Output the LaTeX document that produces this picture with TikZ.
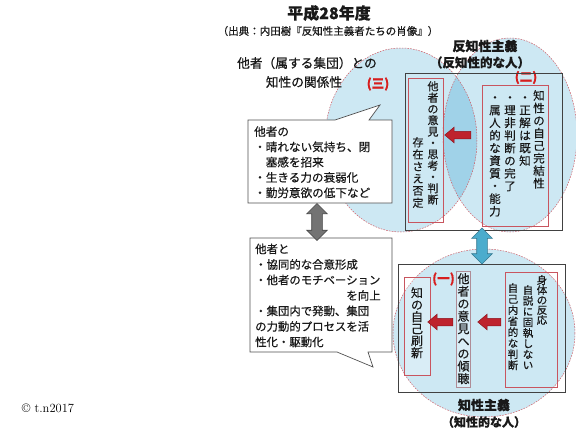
\documentclass[tikz,border=0pt]{standalone}
\usepackage{fontspec}
\newfontfamily\jpfont[FakeBold=0.5]{Noto Sans CJK JP}
\usetikzlibrary{shapes,arrows,positioning,calc}

% one character per line, for the vertical columns
\newcommand\tatetext[2][1.08em]{\vtop{\baselineskip=#1\lineskiplimit=-20pt\lineskip=0pt\tatechar#2\relax}}
\def\tatechar#1{\ifx\relax#1\else\hbox to 1em{\hss#1\hss}\expandafter\tatechar\fi}

\begin{document}
\begin{tikzpicture}[x=1pt,y=-1pt,
    tate/.style={inner sep=0pt, anchor=north, text=txtdark, font=\jpfont\fontsize{#1}{#1}\selectfont},
    tate/.default=11.5,
    lbl/.style={inner sep=0pt, text=txtdark, font=\jpfont\fontsize{#1}{#1}\selectfont},
    lbl/.default=12,
    numlbl/.style={inner sep=0pt, text=labelred, font=\jpfont\bfseries\fontsize{12.5}{12.5}\selectfont},
    ring/.style={draw=ringred, line width=0.5pt, dash pattern=on 1.6pt off 1.2pt},
    redbox/.style={draw=boxred, line width=0.7pt, inner sep=0pt},
    frame/.style={draw=rectgray, line width=0.9pt, inner sep=0pt},
    callout/.style={draw=calloutline, fill=white, line width=0.7pt},
    notetext/.style={inner sep=0pt, anchor=north west, align=left, text=txtdark, font=\jpfont\fontsize{11.6}{15.3}\selectfont},
    redarrow/.style={single arrow, shape border rotate=180, fill=arrowred, draw=arrowredline, line width=0.5pt,
        inner xsep=0pt, inner ysep=3.5pt, single arrow head extend=4pt, single arrow tip angle=80},
    bigarrow/.style={double arrow, rotate=90, line width=0.6pt,
        inner xsep=0pt, inner ysep=5pt, double arrow head extend=5pt, double arrow tip angle=90}
]
        \definecolor{circblue}{RGB}{205,232,243}
        \definecolor{lensblue}{RGB}{160,210,232}
        \definecolor{ringred}{RGB}{205,95,105}
        \definecolor{boxred}{RGB}{200,85,95}
        \definecolor{boxgray}{RGB}{175,140,150}
        \definecolor{rectgray}{RGB}{65,65,65}
        \definecolor{calloutline}{RGB}{80,80,80}
        \definecolor{arrowred}{RGB}{190,35,45}
        \definecolor{arrowredline}{RGB}{140,20,30}
        \definecolor{arrowgray}{RGB}{115,115,115}
        \definecolor{arrowblue}{RGB}{75,172,205}
        \definecolor{labelred}{RGB}{215,30,30}
        \definecolor{txtdark}{RGB}{25,25,25}

        \fill[white] (0,0) rectangle (576,432);
        \useasboundingbox (0,0) rectangle (576,432);

        % Circles - left (three), right (two), bottom (one)
        \fill[circblue] (401,140) ellipse [x radius=76, y radius=92];
        \fill[circblue] (510,135) ellipse [x radius=67, y radius=97];
        \fill[circblue] (484,333) ellipse [x radius=91, y radius=84];
        \begin{scope}
            \clip (401,140) ellipse [x radius=76, y radius=92];
            \fill[lensblue] (510,135) ellipse [x radius=67, y radius=97];
        \end{scope}
        \draw[ring] (401,140) ellipse [x radius=76, y radius=92];
        \draw[ring] (510,135) ellipse [x radius=67, y radius=97];
        \draw[ring] (484,333) ellipse [x radius=91, y radius=84];

        % Title
        \node[lbl=16, font=\jpfont\bfseries\fontsize{16}{16}\selectfont] (title) at (329,13) {平成28年度};
        \node[lbl=10.5] (source) at (328,31) {（出典：内田樹『反知性主義者たちの肖像』）};

        % Heading of the left circle
        \node[lbl=12.7] (relA) at (307,63) {他者（属する集団）との};
        \node[lbl=12.7] (relB) at (304,82) {知性の関係性};
        \node[numlbl] (three) at (378,84) {(三)};

        % Heading of the right circle
        \node[lbl=13, font=\jpfont\bfseries\fontsize{13}{13}\selectfont] (antiA) at (485,46) {反知性主義};
        \node[lbl=12.5, font=\jpfont\bfseries\fontsize{12.5}{12.5}\selectfont] (antiB) at (480,62.5) {（反知性的な人）};
        \node[numlbl] (two) at (526,77.5) {(二)};

        % Upper frame - anti-intellectualism
        \node[frame, minimum width=157, minimum height=157] (antiframe) at (483.5,151.5) {};
        \node[redbox, minimum width=35, minimum height=144] (denybox) at (425.5,150) {};
        \node[redbox, minimum width=66, minimum height=141] (closedbox) at (515,155.5) {};

        \node[tate=11] (denyA) at (433,81) {\tatetext[1.03em]{他者の意見・思考・判断}};
        \node[tate=11] (denyB) at (418,137) {\tatetext[1.1em]{存在さえ否定}};

        \node[tate] (closedA) at (539,90) {\tatetext[1.09em]{知性の自己完結性}};
        \node[tate] (closedB) at (525,96) {\tatetext[1.1em]{・正解は既知}};
        \node[tate] (closedC) at (510,96) {\tatetext[1.1em]{・理非判断の完了}};
        \node[tate] (closedD) at (495,96) {\tatetext[1.1em]{・属人的な資質・能力}};

        \node[redarrow, minimum height=26] (antiarrow) at (460,135) {};

        % Lower frame - intellectualism
        \node[frame, minimum width=167, minimum height=128] (intframe) at (481.5,328) {};
        \node[redbox, fill=white, fill opacity=0.25, minimum width=26, minimum height=98] (renewbox) at (417,326) {};
        \node[draw=boxgray, line width=0.7pt, inner sep=0pt, fill=white, fill opacity=0.25, minimum width=14, minimum height=116] (listenbox) at (463.5,329) {};
        \node[redbox, minimum width=52, minimum height=115] (bodybox) at (531,329.5) {};
        \node[numlbl] (one) at (443.5,279) {(一)};

        \node[tate=12] (renew) at (417,287) {\tatetext[1em]{知の自己刷新}};
        \node[tate=12] (listen) at (463.5,273) {\tatetext[1.04em]{他者の意見への傾聴}};
        \node[tate=10.5] (bodyA) at (542,275) {\tatetext[0.95em]{身体の反応}};
        \node[tate=10.5] (bodyB) at (528,285) {\tatetext[1.02em]{自説に固執しない}};
        \node[tate=10.5] (bodyC) at (513,283) {\tatetext[1.05em]{自己内省的な判断}};

        \node[redarrow, minimum height=25] (listenarrow) at (442.5,322) {};
        \node[redarrow, minimum height=23] (bodyarrow) at (491.5,322) {};

        \node[lbl=13, font=\jpfont\bfseries\fontsize{13}{13}\selectfont] (intA) at (484,405) {知性主義};
        \node[lbl=12, font=\jpfont\bfseries\fontsize{12}{12}\selectfont] (intB) at (484,422) {（知性的な人）};

        % Link between the two frames
        \node[bigarrow, fill=arrowblue, draw=arrowblue!70!black, minimum height=36] (linkarrow) at (482,246) {};

        % Callouts on the left
        \draw[callout] (248,120) -- (335,120) -- (380,105) -- (369,120) -- (392,120) -- (392,203) -- (248,203) -- cycle;
        \node[notetext] (harm) at (254,126) {他者の\\・晴れない気持ち、閉\\\hspace*{1em}塞感を招来\\・生きる力の衰弱化\\・勤労意欲の低下など};

        \draw[callout] (250,238) -- (392,238) -- (392,352) -- (368,352) -- (373,367) -- (337,352) -- (250,352) -- cycle;
        \node[notetext, font=\jpfont\fontsize{11.4}{15.5}\selectfont] (gain) at (255,243.5) {他者と\\・協同的な合意形成\\・他者のモチベーション\\\hspace*{8em}を向上\\・集団内で発動、集団\\の力動的プロセスを活\\性化・駆動化};

        \node[bigarrow, fill=arrowgray, draw=arrowgray!60!black, minimum height=37] (swaparrow) at (317,222) {};

        % Copyright
        \node[inner sep=0pt, font=\fontsize{12.5}{12.5}\selectfont] (copy) at (48,408) {\textcopyright\ t.n2017};
    \end{tikzpicture}
\end{document}
